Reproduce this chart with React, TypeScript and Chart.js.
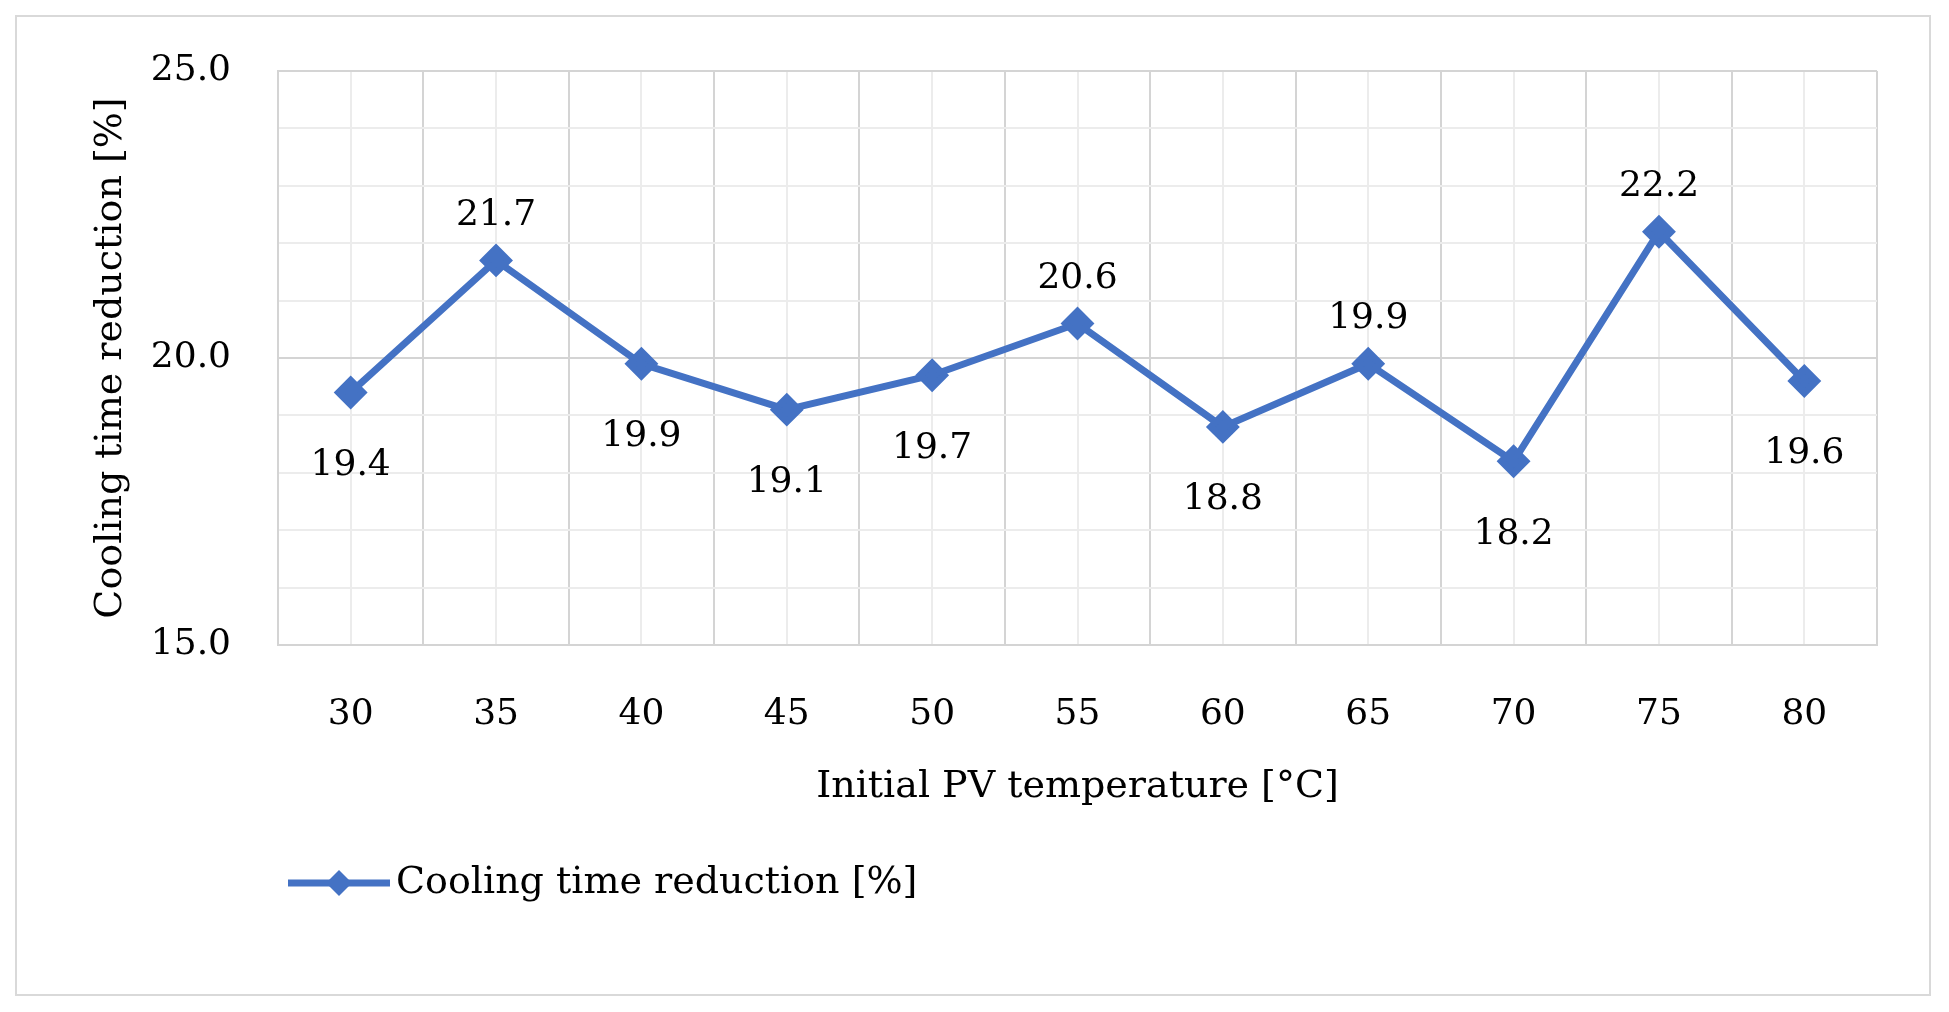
import React, { useEffect, useRef } from "react";
import { Chart, registerables } from "chart.js";
Chart.register(...registerables);

const categories = ["30", "35", "40", "45", "50", "55", "60", "65", "70", "75", "80"];
const values = [19.4, 21.7, 19.9, 19.1, 19.7, 20.6, 18.8, 19.9, 18.2, 22.2, 19.6];
const labelAbove = [false, true, false, false, false, true, false, true, false, true, false];
const seriesName = "Cooling time reduction [%]";
const FONT = "'DejaVu Serif', serif";
const BLUE = "#4472C4";

export default function App() {
  const ref = useRef<HTMLCanvasElement>(null);
  useEffect(() => {
    const labelsPlugin = {
      id: "lbls",
      afterDatasetsDraw(chart: any) {
        const ctx = chart.ctx;
        const meta = chart.getDatasetMeta(0);
        ctx.save();
        ctx.font = `36px ${FONT}`;
        ctx.fillStyle = "#000";
        ctx.textAlign = "center";
        ctx.textBaseline = "middle";
        meta.data.forEach((p: any, i: number) => {
          ctx.fillText(values[i].toFixed(1), p.x, p.y + (labelAbove[i] ? -45 : 73));
        });
        const ly = 883, lx = 288;
        ctx.strokeStyle = BLUE; ctx.lineWidth = 7;
        ctx.beginPath(); ctx.moveTo(lx, ly); ctx.lineTo(lx + 102, ly); ctx.stroke();
        ctx.fillStyle = BLUE;
        ctx.beginPath();
        ctx.moveTo(lx + 51, ly - 13); ctx.lineTo(lx + 64, ly); ctx.lineTo(lx + 51, ly + 13); ctx.lineTo(lx + 38, ly);
        ctx.closePath(); ctx.fill();
        ctx.fillStyle = "#000"; ctx.textAlign = "left";
        ctx.font = `38px ${FONT}`;
        ctx.fillText(seriesName, lx + 108, ly);
        ctx.restore();
      },
    };
    const chart = new Chart(ref.current!, {
      type: "line",
      data: {
        labels: categories,
        datasets: [{
          label: seriesName, data: values, borderColor: BLUE, backgroundColor: BLUE,
          borderWidth: 7, pointStyle: "rectRot", pointRadius: 12, pointHoverRadius: 12, tension: 0,
        }],
      },
      options: {
        responsive: false, animation: false,
        layout: { padding: { left: 0, right: 72, top: 71, bottom: 200 } },
        plugins: { legend: { display: false }, tooltip: { enabled: false } },
        scales: {
          x: {
            type: "category", offset: true,
            grid: { offset: true, color: "#d4d4d4", lineWidth: 2, drawTicks: false },
            border: { color: "#d4d4d4", width: 2 },
            ticks: { padding: 48, font: { family: FONT, size: 36 }, color: "#000" },
            title: { display: true, text: "Initial PV temperature [°C]", font: { family: FONT, size: 38 }, color: "#000", padding: { top: 0, bottom: 2 } },
            afterFit: (s: any) => { s.height = 167; },
          },
          x2: {
            type: "category", labels: categories, offset: true, display: true,
            grid: { offset: false, color: "#ececec", lineWidth: 2, drawTicks: false },
            border: { display: false }, ticks: { display: false }, position: "bottom",
            afterFit: (s: any) => { s.height = 0; },
          },
          y: {
            min: 15, max: 25,
            grid: { color: (c: any) => (c.tick && c.tick.value % 5 === 0 ? "#d4d4d4" : "#ececec"), lineWidth: 2, drawTicks: false },
            border: { color: "#d4d4d4", width: 2 },
            ticks: {
              stepSize: 1, padding: 47, font: { family: FONT, size: 36 }, color: "#000",
              callback: (v: any) => (v % 5 === 0 ? Number(v).toFixed(1) : ""),
            },
            title: { display: true, text: seriesName, font: { family: FONT, size: 38 }, color: "#000", padding: { top: 88, bottom: 0 } },
            afterFit: (s: any) => { s.width = 278; },
          },
        },
      },
      plugins: [labelsPlugin],
    } as any);
    return () => chart.destroy();
  }, []);
  return (
    <div style={{ position: "fixed", left: 0, top: 0, width: 1949, height: 1012, background: "#fff" }}>
      <div style={{ position: "absolute", left: 15, top: 15, width: 1912, height: 977, border: "2px solid #d9d9d9" }} />
      <canvas ref={ref} width={1949} height={1012} style={{ position: "absolute", left: 0, top: 0 }} />
    </div>
  );
}
